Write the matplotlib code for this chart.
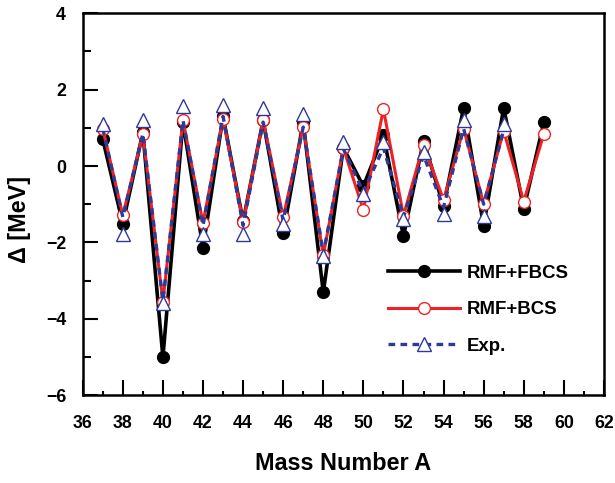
import matplotlib
matplotlib.use("Agg")
import matplotlib.pyplot as plt
from matplotlib.legend_handler import HandlerTuple
from matplotlib.ticker import MultipleLocator

plt.rcParams['font.family'] = ['Liberation Sans', 'DejaVu Sans']
plt.rcParams['font.weight'] = 'bold'

# mass numbers
mass_a = list(range(37, 60))
mass_exp = list(range(37, 58))

# odd-even staggering, MeV
rmf_fbcs = [0.70, -1.51, 0.88, -5.01, 1.15, -2.15, 1.30, -1.45, 1.20, -1.76, 1.15, -3.31,
            0.48, -0.53, 0.80, -1.84, 0.66, -1.05, 1.52, -1.57, 1.53, -1.13, 1.14]
rmf_bcs = [0.98, -1.29, 0.83, -3.55, 1.20, -1.49, 1.24, -1.47, 1.20, -1.34, 1.02, -2.34,
           0.47, -1.15, 1.49, -1.30, 0.56, -0.89, 0.98, -0.99, 0.92, -0.93, 0.84]
exp_line = [0.98, -1.34, 0.85, -3.53, 1.20, -1.56, 1.30, -1.56, 1.15, -1.43, 1.02, -2.30,
            0.45, -0.68, 0.48, -1.34, 0.28, -1.08, 0.98, -1.00, 0.94]
exp_points = [1.10, -1.79, 1.21, -3.60, 1.58, -1.78, 1.61, -1.79, 1.53, -1.51, 1.36, -2.35,
              0.64, -0.73, 0.63, -1.39, 0.36, -1.26, 1.21, -1.31, 1.09]

blue = '#2e3a98'
red = '#ee2224'

fig = plt.figure(figsize=(6.15, 4.83), dpi=100)
ax = fig.add_axes([0.1345, 0.182, 0.8475, 0.7905])

l1, = ax.plot(mass_a, rmf_fbcs, '-o', color='black', lw=2.6, ms=8.5,
              mfc='black', mec='black', zorder=2)
l2, = ax.plot(mass_a, rmf_bcs, '-o', color=red, lw=2.2, ms=8.5,
              mfc='white', mec=red, mew=1.0, zorder=3)
l3, = ax.plot(mass_exp, exp_line, '--', color=blue, lw=2.4, dashes=(2.0, 1.6), zorder=4)
l4, = ax.plot(mass_exp, exp_points, '^', ls='none', ms=9.5, mfc='white',
              mec=blue, mew=1.0, zorder=5)

ax.set_xlim(36, 62)
ax.set_ylim(-6, 4)
ax.xaxis.set_major_locator(MultipleLocator(2))
ax.xaxis.set_minor_locator(MultipleLocator(1))
ax.yaxis.set_major_locator(MultipleLocator(2))
ax.yaxis.set_minor_locator(MultipleLocator(1))
ax.tick_params(which='both', direction='in', top=False, right=False, width=1.5,
               labelsize=12.8)
ax.tick_params(axis='x', which='major', length=11, pad=14)
ax.tick_params(axis='y', which='major', length=11, pad=12)
ax.tick_params(axis='y', which='minor', length=6)
ax.tick_params(axis='x', which='minor', length=3)
for lab in ax.get_xticklabels() + ax.get_yticklabels():
    lab.set_fontweight('bold')
for sp in ax.spines.values():
    sp.set_linewidth(1.8)

ax.set_xlabel('Mass Number A', fontsize=16.8, fontweight='bold')
ax.set_ylabel('Δ [MeV]', fontsize=16.8, fontweight='bold')
ax.xaxis.set_label_coords(0.5, -0.150)
ax.yaxis.set_label_coords(-0.100, 0.46)

ax.legend([l1, l2, (l3, l4)], ['RMF+FBCS', 'RMF+BCS', 'Exp.'],
          handler_map={tuple: HandlerTuple(ndivide=1)},
          loc='upper left', bbox_to_anchor=(0.586, 0.342), frameon=False,
          prop={'weight': 'bold', 'size': 13.4},
          handlelength=3.85, handletextpad=0.4, labelspacing=1.05,
          borderpad=0, borderaxespad=0, numpoints=1)

fig.savefig('out.png', dpi=100)
